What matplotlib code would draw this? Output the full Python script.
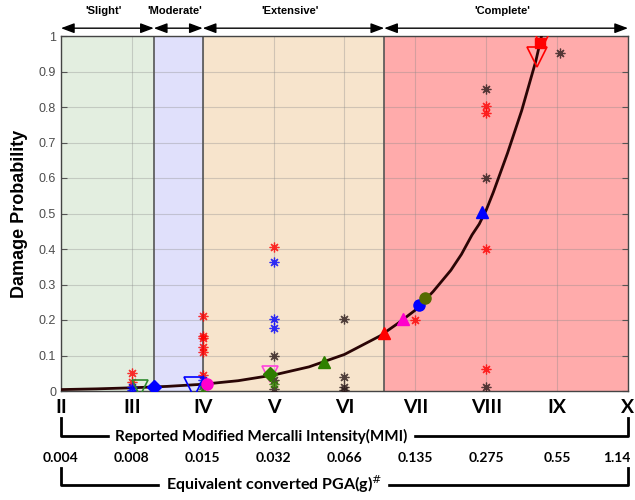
import matplotlib
matplotlib.use("Agg")
import matplotlib.pyplot as plt
import matplotlib.transforms as mtransforms

# fitted fragility curve
curve_mmi = [2.0, 2.5, 3.0, 3.5, 4.0, 4.5, 5.0, 5.5, 6.0, 6.5, 6.75, 7.0, 7.25, 7.5, 7.65, 7.8,
             7.9, 8.0, 8.1, 8.2, 8.3, 8.4, 8.5, 8.6, 8.7, 8.78]
curve_p = [0.004, 0.006, 0.009, 0.013, 0.019, 0.029, 0.045, 0.068, 0.103, 0.155, 0.19,
           0.228, 0.28, 0.34, 0.385, 0.44, 0.47, 0.51, 0.56, 0.615, 0.67, 0.73, 0.79, 0.86, 0.93, 1.0]

# damage state boundaries (MMI)
state_names = ["'Slight'", "'Moderate'", "'Extensive'", "'Complete'"]
state_edges = [2.0, 3.31, 4.0, 6.56, 10.0]
state_colors = ["#e3eee0", "#e0e0fb", "#f7e4cc", "#ffabab"]

# observed damage ratios (asterisks)
red_star_x = [3, 3, 4, 4, 4, 4, 4, 4, 5, 7, 8, 8, 8, 8]
red_star_y = [0.05, 0.026, 0.212, 0.155, 0.15, 0.125, 0.11, 0.045, 0.406, 0.2, 0.4, 0.063, 0.803, 0.782]
blue_star_x = [3, 3, 4, 4, 5, 5, 5]
blue_star_y = [0.01, 0.004, 0.03, 0.017, 0.363, 0.202, 0.177]
black_star_x = [5, 5, 5, 6, 6, 6, 6, 8, 8, 8, 9.04]
black_star_y = [0.1, 0.03, 0.005, 0.202, 0.039, 0.012, 0.003, 0.6, 0.85, 0.012, 0.952]
green_star_x = [4, 5]
green_star_y = [0.005, 0.02]

# other studies' points
filled_tri_x = [6.56, 6.82, 5.71, 7.94]
filled_tri_y = [0.164, 0.204, 0.083, 0.503]
filled_tri_c = ["red", "#ff00cc", "#2e8000", "blue"]
open_tri_x = [3.11, 3.88, 4.95, 8.78, 8.71]
open_tri_y = [0.008, 0.012, 0.048, 0.995, 0.94]
open_tri_c = ["#2e8b2e", "blue", "#ff44dd", "red", "red"]
open_tri_s = [11, 14, 11, 14, 14]
circle_x = [4.06, 7.05, 7.14]
circle_y = [0.02, 0.241, 0.262]
circle_c = ["#ff00cc", "blue", "#556b00"]
diamond_x = [3.31, 4.95]
diamond_y = [0.012, 0.047]
diamond_c = ["blue", "#2e7d00"]
square_x = [8.76]
square_y = [0.981]

mmi_ticks = [2, 3, 4, 5, 6, 7, 8, 9, 10]
mmi_labels = ["II", "III", "IV", "V", "VI", "VII", "VIII", "IX", "X"]
pga_labels = ["0.004", "0.008", "0.015", "0.032", "0.066", "0.135", "0.275", "0.55", "1.14"]

fig = plt.figure(figsize=(6.35, 5.0), dpi=100)
ax = fig.add_axes([0.096, 0.218, 0.893, 0.71])

for i in range(4):
	ax.axvspan(state_edges[i], state_edges[i + 1], color=state_colors[i], zorder=0, lw=0)
for e in state_edges[1:4]:
	ax.axvline(e, color="#555555", lw=1.2, zorder=1.6)

ax.plot(curve_mmi, curve_p, color="#2a0505", lw=2, zorder=3, solid_joinstyle="round")

ast = (8, 2, 0)
for xs, ys, c in [(red_star_x, red_star_y, "red"), (blue_star_x, blue_star_y, "blue"),
                  (black_star_x, black_star_y, "#2b1a1a"), (green_star_x, green_star_y, "#2e8000")]:
	ax.plot(xs, ys, ls="none", marker=ast, ms=7, mec=c, mew=0.9, alpha=0.8, zorder=4)

for x, y, c in zip(filled_tri_x, filled_tri_y, filled_tri_c):
	ax.plot(x, y, marker="^", ms=9, color=c, mec=c, ls="none", zorder=5)
for x, y, c, s in zip(open_tri_x, open_tri_y, open_tri_c, open_tri_s):
	ax.plot(x, y, marker="v", ms=s, mfc="none", mec=c, mew=1.2, ls="none", zorder=5)
for x, y, c in zip(circle_x, circle_y, circle_c):
	ax.plot(x, y, marker="o", ms=8, color=c, ls="none", zorder=5)
for x, y, c in zip(diamond_x, diamond_y, diamond_c):
	ax.plot(x, y, marker="D", ms=7, color=c, ls="none", zorder=5)
ax.plot(square_x, square_y, marker="s", ms=7, color="red", ls="none", zorder=5)

ax.set_xlim(2, 10)
ax.set_ylim(0, 1)
ax.set_xticks(mmi_ticks)
ax.set_xticklabels(mmi_labels, fontsize=14, fontweight="bold", family="Lato")
ax.set_yticks([i / 10 for i in range(11)])
ax.set_yticklabels(["0"] + ["0.%d" % i for i in range(1, 10)] + ["1"], fontsize=9,
                   color="#4d4d4d", family="Liberation Sans")
ax.tick_params(axis="x", length=0, pad=6)
ax.tick_params(axis="y", direction="in", length=4, right=True, color="#555555")
ax.grid(True, color="#888888", alpha=0.35, lw=0.8)
for s in ax.spines.values():
	s.set_color("#444444")
	s.set_linewidth(1.0)
ax.set_ylabel("Damage Probability", fontsize=13, fontweight="bold", family="Liberation Sans", labelpad=8)

# damage state arrows above the plot
trans = mtransforms.blended_transform_factory(ax.transData, ax.transAxes)
for i in range(4):
	x0, x1 = state_edges[i], state_edges[i + 1]
	ax.annotate("", xy=(x0, 1.022), xytext=(x1, 1.022), xycoords=trans, textcoords=trans,
	            arrowprops=dict(arrowstyle="<|-|>,head_length=0.8,head_width=0.3", color="black", lw=1,
	                            shrinkA=0, shrinkB=0), annotation_clip=False)
	ax.text((x0 + x1) / 2 - 0.05, 1.07, state_names[i], transform=trans, ha="center", va="center",
	        fontsize=8, fontweight="bold", family="Liberation Sans")

# bottom brackets
ax.plot([2, 2, 10, 10], [-0.076, -0.127, -0.127, -0.076], color="black", lw=2,
        transform=trans, clip_on=False)
ax.text(4.83, -0.127, "Reported Modified Mercalli Intensity(MMI)", transform=trans, ha="center",
        va="center", fontsize=11, family="Lato", fontweight="bold", backgroundcolor="white")
for x, lab in zip(mmi_ticks, pga_labels):
	if lab == "1.14":
		x = 9.84
	ax.text(x, -0.19, lab, transform=trans, ha="center", va="center", fontsize=10,
	        fontweight="bold", family="Lato")
ax.plot([2, 2, 10, 10], [-0.218, -0.265, -0.265, -0.218], color="black", lw=2,
        transform=trans, clip_on=False)
ax.text(5.0, -0.262, "Equivalent converted PGA(g)$^{\\#}$", transform=trans, ha="center",
        va="center", fontsize=11.5, family="Lato", fontweight="bold", backgroundcolor="white")

fig.savefig("out.png", dpi=100)
